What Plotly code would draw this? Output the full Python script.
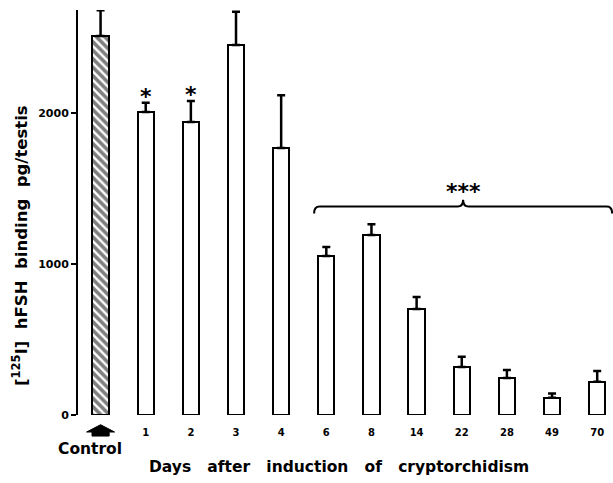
import plotly.graph_objects as go

# Days after induction (first bar is the control group)
categories = ["Control", "1", "2", "3", "4", "6", "8", "14", "22", "28", "49", "70"]
# [125I] hFSH binding, pg/testis (mean and upper SE)
binding = [2510, 2007, 1940, 2450, 1768, 1053, 1192, 702, 318, 245, 115, 221]
binding_se = [170, 60, 140, 220, 350, 60, 72, 80, 68, 53, 28, 70]
# significance markers
single_star_days = ["1", "2"]
y_ticks = [0, 1000, 2000]

FONT = "DejaVu Sans, sans-serif"
xpos = list(range(len(categories)))

# plot-area geometry in pixels
W, H = 613, 483
ML, MR, MT, MB = 78, 0, 10, 68
PW, PH = W - ML - MR, H - MT - MB


def px_to_paper_x(px):
    return (px - ML) / PW


def px_to_paper_y(py):
    return (H - MB - py) / PH


fig = go.Figure()

# control bar, hatched
fig.add_trace(go.Bar(
    x=[xpos[0]], y=[binding[0]], width=0.36,
    marker=dict(color="white", line=dict(color="black", width=2),
                pattern=dict(shape="\\", size=6, solidity=0.6, fgcolor="black", bgcolor="white")),
    error_y=dict(type="data", array=[binding_se[0]], arrayminus=[0], symmetric=False,
                 color="black", thickness=2.5, width=4),
    showlegend=False,
))

# cryptorchid groups, open bars
fig.add_trace(go.Bar(
    x=xpos[1:], y=binding[1:], width=0.36,
    marker=dict(color="white", line=dict(color="black", width=2)),
    error_y=dict(type="data", array=binding_se[1:], arrayminus=[0] * (len(binding) - 1),
                 symmetric=False, color="black", thickness=2.5, width=4),
    showlegend=False,
))

annotations = []
for d in single_star_days:
    i = categories.index(d)
    annotations.append(dict(x=xpos[i], y=binding[i] + binding_se[i], yshift=6,
                            text="<b>*</b>", showarrow=False, yanchor="middle",
                            font=dict(family=FONT, size=22, color="black")))

# bracket spanning days 6-70
x0, x1 = 4.73, 11.33
xc = (x0 + x1) / 2
yl, ye, yp = 1380, 1335, 1425
dx = 0.12
brace = (f"M {x0},{ye} Q {x0},{yl} {x0 + dx},{yl} L {xc - dx},{yl} "
         f"Q {xc},{yl} {xc},{yp} Q {xc},{yl} {xc + dx},{yl} "
         f"L {x1 - dx},{yl} Q {x1},{yl} {x1},{ye}")
shapes = [dict(type="path", xref="x", yref="y", path=brace,
               line=dict(color="black", width=2))]
annotations.append(dict(x=xc, y=yp, yshift=8, text="<b>***</b>", showarrow=False,
                        yanchor="middle", font=dict(family=FONT, size=22, color="black")))

# arrow marking the control bar
shapes.append(dict(type="path", xref="x", yref="paper",
                   path="M -0.31,-0.042 L 0,-0.024 L 0.31,-0.042 L 0.19,-0.042 L 0.19,-0.052 "
                        "L -0.19,-0.052 L -0.19,-0.042 Z",
                   fillcolor="black", line=dict(color="black", width=1)))
annotations.append(dict(x=-0.24, y=px_to_paper_y(449), xref="x", yref="paper",
                        text="<b>Control</b>", showarrow=False, yanchor="middle",
                        font=dict(family=FONT, size=15.5, color="black")))
annotations.append(dict(x=px_to_paper_x(339), y=px_to_paper_y(467), xref="paper", yref="paper",
                        text="<b>Days   after   induction   of   cryptorchidism</b>",
                        showarrow=False, yanchor="middle", xanchor="center",
                        font=dict(family=FONT, size=15.5, color="black")))
annotations.append(dict(x=px_to_paper_x(20), y=px_to_paper_y(246), xref="paper", yref="paper",
                        text="<b>[<sup>125</sup>I]  hFSH  binding  pg/testis</b>",
                        showarrow=False, textangle=-90, xanchor="center", yanchor="middle",
                        font=dict(family=FONT, size=16.5, color="black")))

fig.update_layout(
    width=W, height=H,
    margin=dict(l=ML, r=MR, t=MT, b=MB),
    paper_bgcolor="white", plot_bgcolor="white",
    bargap=0,
    shapes=shapes,
    annotations=annotations,
    font=dict(family=FONT, color="black"),
    xaxis=dict(
        range=[-0.5, 11.35],
        tickmode="array", tickvals=xpos[1:],
        ticktext=[f"<b>{c}</b>" for c in categories[1:]],
        tickfont=dict(family=FONT, size=10),
        ticklabelstandoff=10,
        showline=False, ticks="", showgrid=False, zeroline=False,
    ),
    yaxis=dict(
        range=[0, 2682],
        tickmode="array", tickvals=y_ticks, ticktext=[f"<b>{v}</b>" for v in y_ticks],
        tickfont=dict(family=FONT, size=11),
        ticks="outside", ticklen=5, tickwidth=2, tickcolor="black",
        showline=True, linewidth=2, linecolor="black",
        showgrid=False, zeroline=False,
    ),
)

fig.write_html("out.html")
